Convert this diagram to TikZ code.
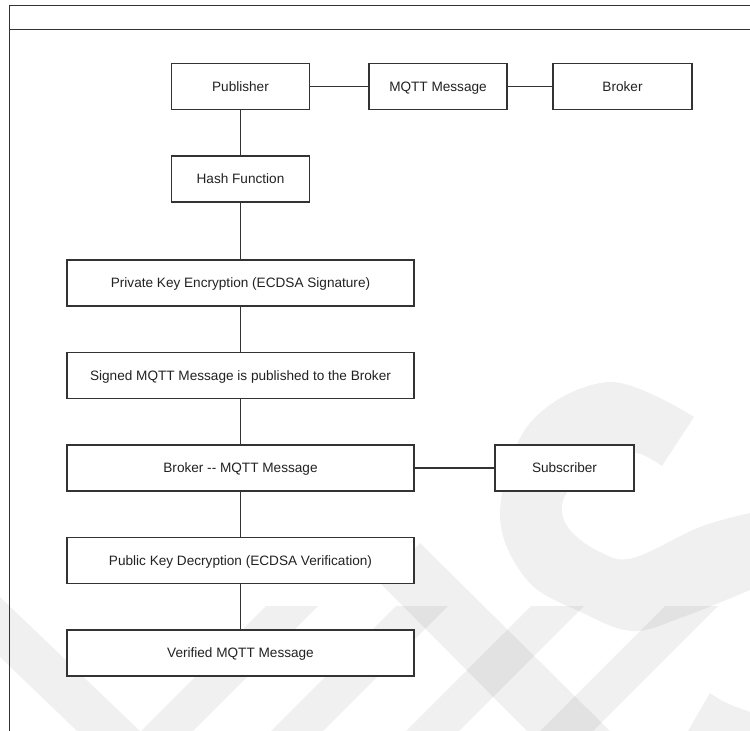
\documentclass[tikz,border=0pt]{standalone}
\usepackage{fontspec}
\setmainfont{Liberation Sans}
\definecolor{edge}{HTML}{333333}
\definecolor{ink}{HTML}{222222}
\tikzset{
  stepbox/.style={draw=edge, line width=1.1pt, fill=white, rectangle,
    minimum height=46pt, inner sep=0pt, text=ink,
    text height=9.8pt, text depth=0pt,
    font=\fontsize{13.6}{16}\selectfont},
  link/.style={draw=edge, line width=1.1pt},
  frameline/.style={draw=edge, line width=1pt},
  wm/.style={fill=black, fill opacity=0.06}
}
\begin{document}
\begin{tikzpicture}[x=1pt,y=-1pt]
\useasboundingbox (0,0) rectangle (750,731);

% light background mark
\fill[wm] plot[smooth, tension=0.6] coordinates {(694,417) (610,382) (530,423) (500,513) (527,580) (583,613) (633,631) (683,617) (750,590)}
  -- (750,513)
  -- plot[smooth, tension=0.6] coordinates {(750,513) (700,527) (633,558) (600,552) (570,530) (562,505) (577,480) (610,458) (637,453) (662,466)}
  -- cycle;
\fill[wm] (0,597) -- (140,731) -- (77,731) -- (0,657) -- cycle;
\fill[wm] (420,543) -- (610,731) -- (527,731) -- (380,583) -- cycle;
\foreach \a/\b in {266/318, 396/448, 531/584, 665/718}
  \fill[wm] (\a,606) -- (\b,606) -- (\b-125,731) -- (\a-125,731) -- cycle;
\fill[wm] (710,693) .. controls (725,703) .. (750,712) -- (750,731) -- (688,731) -- cycle;

% page frame
\draw[frameline] (9,731) -- (9,5) -- (750,5);
\draw[frameline] (9,29) -- (750,29);

% boxes
\node[stepbox, minimum width=138pt] (pub)  at (240.5,86.5) {Publisher};
\node[stepbox, minimum width=138pt] (msg)  at (438,86.5)   {MQTT Message};
\node[stepbox, minimum width=139pt] (brk)  at (622.5,86.5) {Broker};
\node[stepbox, minimum width=138pt] (hash) at (240.5,179)  {Hash Function};
\node[stepbox, minimum width=347pt] (priv) at (240.5,283)  {Private Key Encryption (ECDSA Signature)};
\node[stepbox, minimum width=347pt] (sign) at (240.5,375.5) {Signed MQTT Message is published to the Broker};
\node[stepbox, minimum width=347pt] (bmsg) at (240.5,468)  {Broker -{}- MQTT Message};
\node[stepbox, minimum width=139pt] (sub)  at (564.5,468)  {Subscriber};
\node[stepbox, minimum width=347pt] (pubk) at (240.5,560.5) {Public Key Decryption (ECDSA Verification)};
\node[stepbox, minimum width=347pt] (ver)  at (240.5,653)  {Verified MQTT Message};

% connectors
\draw[link] (pub.east) -- (msg.west);
\draw[link] (msg.east) -- (brk.west);
\draw[link] (pub.south) -- (hash.north);
\draw[link] (hash.south) -- (priv.north);
\draw[link] (priv.south) -- (sign.north);
\draw[link] (sign.south) -- (bmsg.north);
\draw[link] (bmsg.east) -- (sub.west);
\draw[link] (bmsg.south) -- (pubk.north);
\draw[link] (pubk.south) -- (ver.north);
\end{tikzpicture}
\end{document}
